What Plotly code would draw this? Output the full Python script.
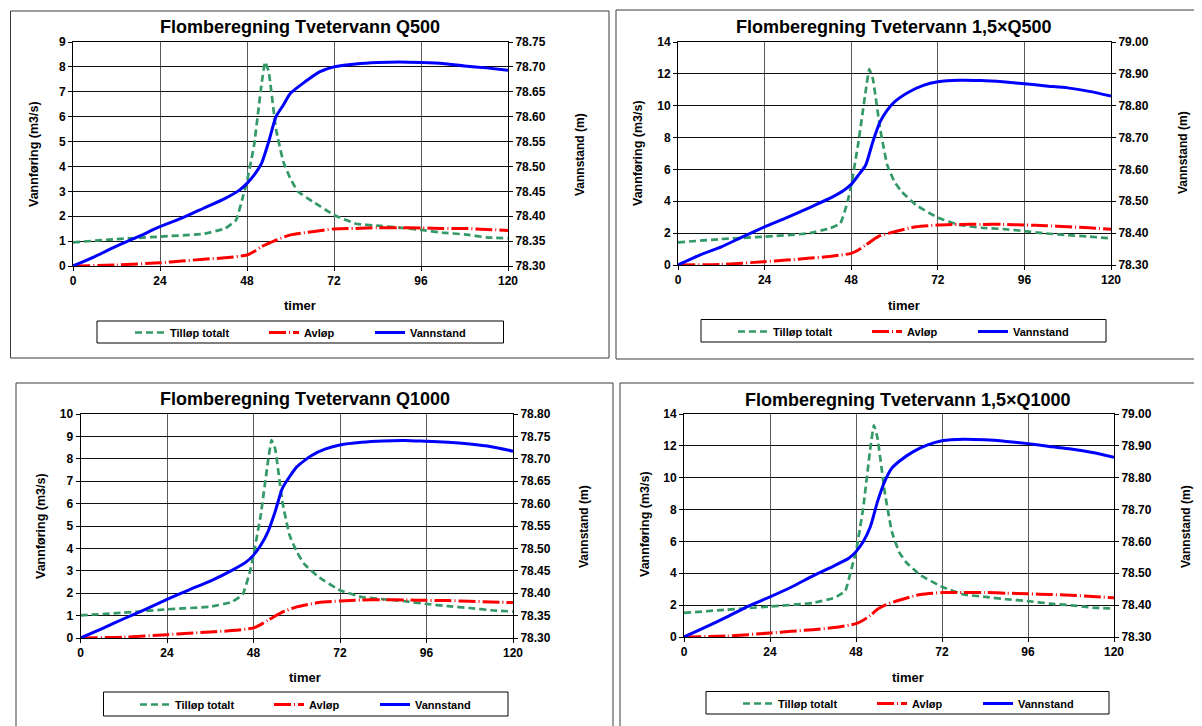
import plotly.graph_objects as go

W, H = 1202, 726
OFF = 8  # page body margin offset in the browser
FONT = "Liberation Sans, Arial, sans-serif"

# ---------------- data ----------------
HOUR_TICKS = [0, 24, 48, 72, 96, 120]
SERIES_NAMES = ["Tilløp totalt", "Avløp", "Vannstand"]
TITLES = [
    "Flomberegning Tvetervann Q500",
    "Flomberegning Tvetervann 1,5×Q500",
    "Flomberegning Tvetervann Q1000",
    "Flomberegning Tvetervann 1,5×Q1000",
]
X_TITLE = "timer"
Y_TITLE = "Vannføring (m3/s)"
Y2_TITLE = "Vannstand (m)"

T_IN = [0, 12, 24, 36, 42, 45, 47, 48, 50, 52, 53, 54, 56, 58, 60, 62, 66, 72, 78, 84, 90, 96, 102, 108, 114, 120]
T_OUT = [0, 12, 24, 30, 36, 42, 48, 50, 52, 54, 56, 60, 66, 72, 78, 84, 90, 96, 102, 108, 114, 120]
T_WL = [0, 6, 12, 18, 24, 30, 36, 42, 46, 48, 50, 52, 54, 56, 58, 60, 64, 68, 72, 78, 84, 90, 96, 102, 108, 114, 120]

# Q500
Q500_IN = [0.95, 1.08, 1.18, 1.29, 1.51, 1.85, 2.85, 3.4, 4.9, 7.3, 8.2, 7.8, 5.5, 4.2, 3.5, 3.0, 2.6, 2.05, 1.7, 1.62, 1.54, 1.45, 1.34, 1.27, 1.15, 1.11]
Q500_OUT = [0, 0.04, 0.13, 0.2, 0.27, 0.33, 0.44, 0.58, 0.78, 0.91, 1.04, 1.25, 1.38, 1.49, 1.51, 1.54, 1.54, 1.53, 1.51, 1.51, 1.47, 1.43]
Q500_WL = [78.300, 78.319, 78.340, 78.359, 78.379, 78.396, 78.416, 78.436, 78.453, 78.466, 78.483, 78.506, 78.550, 78.600,
           78.623, 78.647, 78.670, 78.690, 78.700, 78.706, 78.709, 78.710, 78.709, 78.707, 78.702, 78.698, 78.693]

# 1,5 x Q500
Q500X15_IN = [1.42, 1.63, 1.78, 1.98, 2.3, 2.61, 3.97, 5.0, 7.7, 10.9, 12.3, 11.7, 8.57, 6.27, 5.22, 4.6, 3.76, 2.97, 2.51, 2.34, 2.26, 2.13, 1.98, 1.88, 1.78, 1.67]
Q500X15_OUT = [0, 0.04, 0.21, 0.31, 0.42, 0.54, 0.73, 0.94, 1.25, 1.57, 1.84, 2.09, 2.40, 2.51, 2.55, 2.55, 2.55, 2.51, 2.47, 2.40, 2.34, 2.24]
Q500X15_WL = [78.300, 78.331, 78.357, 78.389, 78.420, 78.448, 78.478, 78.509, 78.535, 78.553, 78.582, 78.613, 78.687, 78.749,
              78.786, 78.812, 78.843, 78.864, 78.875, 78.880, 78.879, 78.875, 78.869, 78.862, 78.856, 78.845, 78.830]

# Q1000
Q1000_IN = [1.01, 1.13, 1.28, 1.40, 1.61, 1.94, 2.95, 3.70, 5.48, 7.87, 8.84, 8.46, 6.08, 4.59, 3.85, 3.32, 2.73, 2.13, 1.83, 1.73, 1.64, 1.52, 1.42, 1.34, 1.24, 1.18]
Q1000_OUT = [0, 0.04, 0.15, 0.21, 0.27, 0.33, 0.45, 0.60, 0.79, 0.98, 1.16, 1.39, 1.58, 1.65, 1.70, 1.71, 1.70, 1.68, 1.67, 1.64, 1.61, 1.58]
Q1000_WL = [78.300, 78.321, 78.343, 78.364, 78.386, 78.407, 78.427, 78.451, 78.470, 78.485, 78.507, 78.537, 78.582, 78.634,
            78.660, 78.682, 78.707, 78.722, 78.731, 78.737, 78.740, 78.741, 78.739, 78.737, 78.733, 78.727, 78.717]

# 1,5 x Q1000
Q1000X15_IN = [1.51, 1.72, 1.91, 2.14, 2.46, 2.88, 4.51, 5.35, 8.08, 11.86, 13.29, 12.49, 9.13, 6.61, 5.35, 4.68, 3.88, 3.15, 2.67, 2.52, 2.37, 2.25, 2.10, 1.99, 1.85, 1.78]
Q1000X15_OUT = [0, 0.06, 0.25, 0.36, 0.46, 0.59, 0.84, 1.05, 1.36, 1.74, 1.99, 2.31, 2.67, 2.79, 2.79, 2.79, 2.75, 2.71, 2.67, 2.62, 2.54, 2.46]
Q1000X15_WL = [78.300, 78.331, 78.363, 78.397, 78.426, 78.457, 78.492, 78.524, 78.547, 78.568, 78.599, 78.646, 78.725, 78.788,
               78.830, 78.851, 78.882, 78.903, 78.916, 78.921, 78.919, 78.914, 78.907, 78.898, 78.890, 78.879, 78.864]

Y_RANGES = [[0, 9], [0, 14], [0, 10], [0, 14]]
Y_DTICKS = [1, 2, 1, 2]
Y2_RANGES = [[78.30, 78.75], [78.30, 79.00], [78.30, 78.80], [78.30, 79.00]]
Y2_DTICKS = [0.05, 0.1, 0.05, 0.1]

# ---------------- layout geometry (pixels, window coordinates) ----------------
PLOTS = [(73, 508, 42, 266), (678, 1111, 42, 265), (80.5, 513, 414, 638), (684, 1114, 414, 637)]
BOXES = [(10.5, 609, 11, 358), (616, 1230, 10, 359), (16, 613, 383, 750), (620, 1230, 383, 750)]
LEG_BOXES = [(97, 503.5, 321, 343), (701, 1106, 319.5, 342), (103.5, 508, 692, 716), (706, 1109, 691.5, 714)]
LEG_POS = [(130, 332.5), (733, 331.5), (135, 704.5), (738, 703.5)]
TITLE_POS = [(300, 27), (894, 27), (305, 399), (908, 400)]
TIMER_POS = [(300, 305), (904, 305), (305, 677), (908, 677)]
YLAB_POS = [(34, 154), (638, 153), (41, 526), (645, 524)]
Y2LAB_POS = [(580, 155), (1183, 153), (584, 527), (1186, 527)]

GREEN = "#339966"
RED = "#FF0000"
BLUE = "#0000FF"


def fx(v):
    return (v - OFF) / W


def fy(v):
    return 1 - (v - OFF) / H


DATA = [
    (Q500_IN, Q500_OUT, Q500_WL),
    (Q500X15_IN, Q500X15_OUT, Q500X15_WL),
    (Q1000_IN, Q1000_OUT, Q1000_WL),
    (Q1000X15_IN, Q1000X15_OUT, Q1000X15_WL),
]

fig = go.Figure()
layout = dict(
    template="none",
    width=W, height=H, autosize=False,
    margin=dict(l=0, r=0, t=0, b=0, pad=0, autoexpand=False),
    paper_bgcolor="white", plot_bgcolor="white",
    font=dict(family=FONT, color="black", size=12),
    shapes=[], annotations=[],
)

LEG_WIDTHS = [89, 61, 60]

for i in range(4):
    xa = "x" if i == 0 else f"x{i + 1}"
    ya_n = 2 * i + 1
    y2_n = 2 * i + 2
    ya = "y" if ya_n == 1 else f"y{ya_n}"
    y2a = f"y{y2_n}"
    leg = "legend" if i == 0 else f"legend{i + 1}"
    q_in, q_out, wl = DATA[i]

    fig.add_trace(go.Scatter(x=T_IN, y=q_in, mode="lines", name=SERIES_NAMES[0],
                             line=dict(color=GREEN, width=2.7, dash="7px,4px", shape="spline", smoothing=0.3),
                             xaxis=xa, yaxis=ya, legend=leg, legendwidth=LEG_WIDTHS[0],
                             hoverinfo="skip"))
    fig.add_trace(go.Scatter(x=T_OUT, y=q_out, mode="lines", name=SERIES_NAMES[1],
                             line=dict(color=RED, width=3, dash="17px,3px,1px,3px", shape="spline", smoothing=0.6),
                             xaxis=xa, yaxis=ya, legend=leg, legendwidth=LEG_WIDTHS[1],
                             hoverinfo="skip"))
    fig.add_trace(go.Scatter(x=T_WL, y=wl, mode="lines", name=SERIES_NAMES[2],
                             line=dict(color=BLUE, width=3, shape="spline", smoothing=0.6),
                             xaxis=xa, yaxis=y2a, legend=leg, legendwidth=LEG_WIDTHS[2],
                             hoverinfo="skip"))

    x0, x1, yt, yb = PLOTS[i]
    xkey = "xaxis" if i == 0 else f"xaxis{i + 1}"
    ykey = "yaxis" if ya_n == 1 else f"yaxis{ya_n}"
    y2key = f"yaxis{y2_n}"
    tickfont = dict(family=FONT, size=12, color="black", weight="bold")

    layout[xkey] = dict(
        domain=[fx(x0), fx(x1)], range=[0, 120], anchor=ya, automargin=False,
        tickmode="array", tickvals=HOUR_TICKS, ticktext=[str(v) for v in HOUR_TICKS],
        showgrid=True, gridcolor="#5a5a5a", gridwidth=1.3,
        showline=True, linecolor="black", linewidth=1, mirror=True,
        ticks="outside", ticklen=4, tickcolor="black", tickfont=tickfont,
        zeroline=False, fixedrange=True,
    )
    layout[ykey] = dict(
        domain=[fy(yb), fy(yt)], range=Y_RANGES[i], dtick=Y_DTICKS[i], tick0=0, anchor=xa,
        automargin=False,
        showgrid=True, gridcolor="#111111", gridwidth=1,
        showline=True, linecolor="black", linewidth=1,
        ticks="outside", ticklen=4, tickcolor="black", tickfont=tickfont,
        zeroline=False, fixedrange=True,
    )
    layout[y2key] = dict(
        range=Y2_RANGES[i], dtick=Y2_DTICKS[i], tick0=78.30, tickformat=".2f",
        overlaying=ya, side="right", anchor=xa, automargin=False,
        showgrid=False, showline=True, linecolor="black", linewidth=1,
        ticks="outside", ticklen=4, tickcolor="black", tickfont=tickfont,
        zeroline=False, fixedrange=True,
    )

    lx, ly = LEG_POS[i]
    layout[leg] = dict(
        orientation="h", x=fx(lx), xanchor="left", y=fy(ly), yanchor="middle",
        bgcolor="rgba(0,0,0,0)", borderwidth=0, itemwidth=30,
        font=dict(family=FONT, size=11, color="black", weight="bold"),
    )

    bx0, bx1, by0, by1 = BOXES[i]
    layout["shapes"].append(dict(type="rect", xref="paper", yref="paper",
                                 x0=fx(bx0), x1=fx(bx1), y0=fy(by1), y1=fy(by0),
                                 line=dict(color="#3a3a3a", width=1), layer="below"))
    lbx0, lbx1, lby0, lby1 = LEG_BOXES[i]
    layout["shapes"].append(dict(type="rect", xref="paper", yref="paper",
                                 x0=fx(lbx0), x1=fx(lbx1), y0=fy(lby1), y1=fy(lby0),
                                 line=dict(color="black", width=1), layer="below"))

    tx, ty = TITLE_POS[i]
    layout["annotations"].append(dict(text=TITLES[i], x=fx(tx), y=fy(ty), xref="paper", yref="paper",
                                      xanchor="center", yanchor="middle", showarrow=False,
                                      font=dict(family=FONT, size=18, color="black", weight="bold")))
    mx, my = TIMER_POS[i]
    layout["annotations"].append(dict(text=X_TITLE, x=fx(mx), y=fy(my), xref="paper", yref="paper",
                                      xanchor="center", yanchor="middle", showarrow=False,
                                      font=dict(family=FONT, size=13, color="black", weight="bold")))
    lx1, ly1 = YLAB_POS[i]
    layout["annotations"].append(dict(text=Y_TITLE, x=fx(lx1), y=fy(ly1), xref="paper", yref="paper",
                                      xanchor="center", yanchor="middle", showarrow=False, textangle=-90,
                                      font=dict(family=FONT, size=12.5, color="black", weight="bold")))
    rx1, ry1 = Y2LAB_POS[i]
    layout["annotations"].append(dict(text=Y2_TITLE, x=fx(rx1), y=fy(ry1), xref="paper", yref="paper",
                                      xanchor="center", yanchor="middle", showarrow=False, textangle=-90,
                                      font=dict(family=FONT, size=12, color="black", weight="bold")))

fig.update_layout(**layout)
fig.write_html("out.html")
